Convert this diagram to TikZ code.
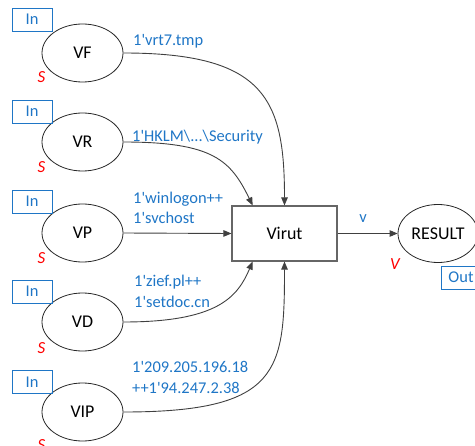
\documentclass[tikz,border=0pt]{standalone}
\usepackage{fontspec}
\setmainfont{Carlito}
\usetikzlibrary{arrows.meta,shapes.geometric,calc}
\definecolor{lblue}{HTML}{1F76C6}
\definecolor{edgegray}{HTML}{404040}
\newcommand{\tick}{\textquotesingle}
\begin{document}
\begin{tikzpicture}[x=1bp,y=-1bp,
  place/.style={ellipse, draw=black!85, line width=0.8bp, minimum width=81bp,
    minimum height=58bp, inner sep=0pt, font=\fontsize{18}{20}\selectfont},
  trans/.style={rectangle, draw=black!60, line width=1.1bp, minimum width=105bp,
    minimum height=55bp, inner sep=0pt, font=\fontsize{18}{20}\selectfont},
  portbox/.style={rectangle, draw=lblue, line width=0.8bp, minimum width=40bp,
    minimum height=23bp, inner sep=0pt, text=lblue, font=\fontsize{16.5}{18}\selectfont},
  inscr/.style={anchor=base west, inner sep=0pt, text=lblue, align=left,
    font=\fontsize{16.5}{20.5}\selectfont},
  ctype/.style={anchor=base, inner sep=0pt, text=red, font=\fontsize{17}{18}\selectfont\itshape},
  arc/.style={draw=edgegray, line width=0.9bp,
    -{Triangle[length=8bp,width=6.5bp]}}]
\useasboundingbox (0,0) rectangle (475,446);

% places
\node[place] (VF)  at (82.5,53)  {VF};
\node[place] (VR)  at (82.5,142) {VR};
\node[place] (VP)  at (82.5,233) {VP};
\node[place] (VD)  at (82.5,322) {VD};
\node[place] (VIP) at (82.5,412) {VIP};
\node[place, minimum width=80bp] (RES) at (438,233.5) {RESULT};

% transition
\node[trans] (Virut) at (284.5,233.5) {Virut};

% port tags
\node[portbox] (inF)  at (32,19.5)  {In};
\node[portbox] (inR)  at (32,111.5) {In};
\node[portbox] (inP)  at (32,201.5) {In};
\node[portbox] (inD)  at (32,291.5) {In};
\node[portbox] (inIP) at (32,382)   {In};
\node[portbox] (out)  at (461,277.5) {Out};

% colour sets
\node[ctype] (sF)  at (41.5,83)  {S};
\node[ctype] (sR)  at (41.5,173) {S};
\node[ctype] (sP)  at (41.5,263) {S};
\node[ctype] (sD)  at (41.5,353) {S};
\node[ctype] (sIP) at (41.5,450) {S};
\node[ctype] (vRes) at (395,269) {V};

% entry points on the transition
\coordinate (topL) at ($(Virut.north west)!0.2!(Virut.north east)$);
\coordinate (botL) at ($(Virut.south west)!0.2!(Virut.south east)$);

% arcs
\draw[arc] (VF.east) .. controls +(142,0) and +(0,-106) .. (Virut.north);
\draw[arc] (VR.east) .. controls +(90,0) and +(-22,-45) .. (topL);
\draw[arc] (VP.east) -- (Virut.west);
\draw[arc] (VD.east) .. controls +(95,0) and +(-15,35) .. (botL);
\draw[arc] (VIP.east) .. controls +(157,0) and +(0,109) .. (Virut.south);
\draw[arc] (Virut.east) -- (RES.west);

% arc inscriptions (base = baseline of the last line)
\node[inscr] (iF)  at (133,46)  {1\tick vrt7.tmp};
\node[inscr] (iR)  at (132,142) {1\tick HKLM\textbackslash...\textbackslash Security};
\node[inscr] (iP)  at (133,224) {1\tick winlogon++\\1\tick svchost};
\node[inscr] (iD)  at (134,307) {1\tick zief.pl++\\1\tick setdoc.cn};
\node[inscr] (iIP) at (132,393) {1\tick 209.205.196.18\\++1\tick 94.247.2.38};
\node[inscr, anchor=base] (iOut) at (363,223) {v};
\end{tikzpicture}
\end{document}
